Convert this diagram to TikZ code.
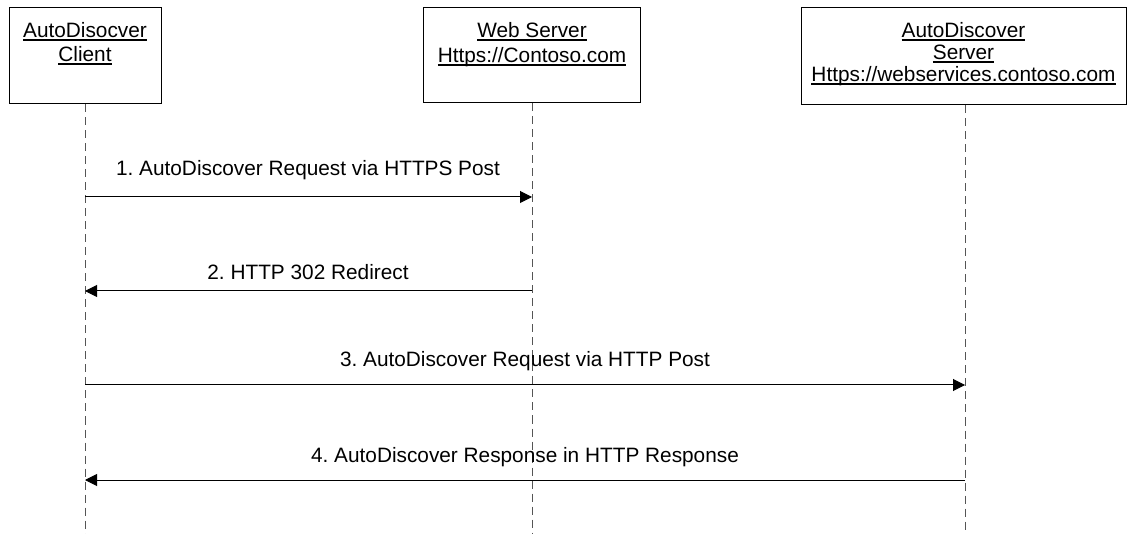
\documentclass[tikz,border=0pt]{standalone}
\usepackage{fontspec}
\setmainfont{Liberation Sans}
\usetikzlibrary{arrows.meta}
\frenchspacing
\newcommand\myul[1]{\setbox0\hbox{#1}\rlap{\rule[-2.6pt]{\wd0}{1.1pt}}\box0}
\definecolor{lifegray}{HTML}{555555}
\begin{document}
\begin{tikzpicture}[x=1pt,y=-1pt,
  every node/.style={font=\fontsize{20.8}{23}\selectfont, inner sep=0pt, text=black},
  objbox/.style={draw=black, line width=1pt, minimum width=#1},
  hdr/.style={align=center, anchor=base},
  lifeline/.style={draw=lifegray, line width=1pt, dash pattern=on 8pt off 5pt},
  msg/.style={draw=black, line width=1pt, -{Triangle[length=12pt,width=12pt]}},
  msglabel/.style={anchor=base}]
\useasboundingbox (0,0) rectangle (1127,534);

% object boxes
\node[objbox=152, minimum height=96] (box1) at (85,56) {};
\node[objbox=217, minimum height=95] (box2) at (532,55.5) {};
\node[objbox=325, minimum height=97] (box3) at (963.5,56.5) {};

% header texts (base anchor = baseline of last line)
\node[hdr] (t1) at (85,62) {\myul{AutoDisocver}\\[1pt]\myul{Client}};
\node[hdr] (t2) at (532,63) {\myul{Web Server}\\[2pt]\myul{Https://Contoso.com}};
\node[hdr] (t3) at (963.5,82) {\myul{AutoDiscover}\\[-1pt]\myul{Server}\\[-1pt]\myul{Https://webservices.contoso.com}};

% lifeline ends
\coordinate (e1) at (85,534);
\coordinate (e2) at (532,534);
\coordinate (e3) at (965,534);
\draw[lifeline] (box1.south) -- (e1);
\draw[lifeline] (box2.south) -- (e2);
\draw[lifeline] (box3.south -| e3) -- (e3);

% message endpoints
\coordinate (a1) at (85,197);  \coordinate (b1) at (532,197);
\coordinate (a2) at (85,291);  \coordinate (b2) at (532,291);
\coordinate (a3) at (85,385);  \coordinate (c3) at (965,385);
\coordinate (a4) at (85,480);  \coordinate (c4) at (965,480);

\draw[msg] (a1) -- (b1);
\draw[msg] (b2) -- (a2);
\draw[msg] (a3) -- (c3);
\draw[msg] (c4) -- (a4);

\node[msglabel] (l1) at (308,176) {1. AutoDiscover Request via HTTPS Post};
\node[msglabel] (l2) at (308,280) {2. HTTP 302 Redirect};
\node[msglabel] (l3) at (525,367) {3. AutoDiscover Request via HTTP Post};
\node[msglabel] (l4) at (525,462) {4. AutoDiscover Response in HTTP Response};
\end{tikzpicture}
\end{document}
